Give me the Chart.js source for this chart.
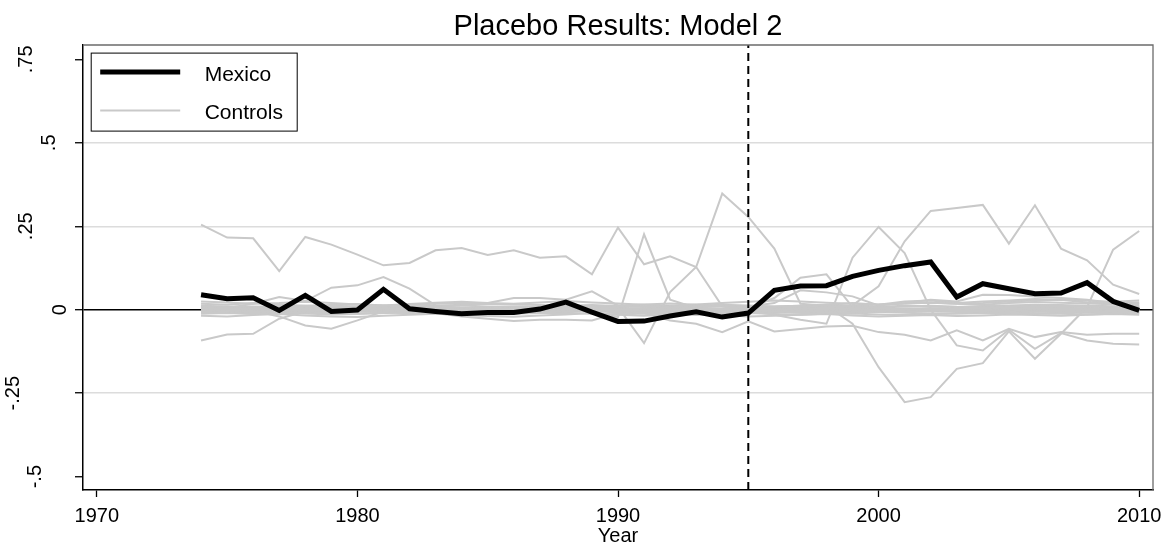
<!DOCTYPE html>
<html>
<head>
<meta charset="utf-8">
<script src="https://cdn.jsdelivr.net/npm/chart.js@4/dist/chart.umd.min.js"></script>
<style>
  html, body { margin: 0; padding: 0; background: #ffffff; }
  #wrap { width: 1174px; height: 551px; }
</style>
</head>
<body>
<div id="wrap"><canvas id="c" width="1174" height="551"></canvas></div>
<script>
// ---- data -------------------------------------------------------------
const years = [1974, 1975, 1976, 1977, 1978, 1979, 1980, 1981, 1982, 1983,
               1984, 1985, 1986, 1987, 1988, 1989, 1990, 1991, 1992, 1993,
               1994, 1995, 1996, 1997, 1998, 1999, 2000, 2001, 2002, 2003,
               2004, 2005, 2006, 2007, 2008, 2009, 2010];

const mexico = [0.045, 0.033, 0.036, -0.002, 0.043, -0.005, -0.001, 0.061, 0.003, -0.005,
                -0.012, -0.008, -0.008, 0.002, 0.023, -0.007, -0.035, -0.034, -0.019, -0.006,
                -0.022, -0.010, 0.058, 0.071, 0.072, 0.100, 0.118, 0.132, 0.143, 0.038,
                0.078, 0.063, 0.048, 0.050, 0.081, 0.025, -0.002];

const ctrlA = [0.255, 0.216, 0.214, 0.116, 0.218, 0.195, 0.165, 0.133, 0.140, 0.178, 0.185, 0.164, 0.178, 0.156, 0.160, 0.106, 0.246, 0.136, 0.160, 0.128, 0.010, -0.005, 0.000, 0.004, 0.006, 0.003, -0.002, 0.001, 0.004, 0.002, 0.005, 0.008, 0.010, 0.012, 0.010, 0.009, 0.008];
const ctrlB = [0.004, 0.006, 0.002, 0.000, -0.003, 0.002, 0.005, 0.003, 0.001, -0.002, 0.000, 0.003, 0.004, 0.002, 0.000, 0.003, 0.008, -0.100, 0.053, 0.128, 0.348, 0.278, 0.183, 0.018, 0.012, -0.042, -0.172, -0.277, -0.262, -0.177, -0.160, -0.065, -0.147, -0.072, 0.008, 0.180, 0.236];
const ctrlC = [0.002, 0.000, 0.003, 0.005, 0.002, -0.001, 0.000, 0.002, 0.004, 0.003, 0.001, -0.001, 0.000, 0.002, 0.004, 0.002, 0.000, -0.002, 0.001, 0.003, 0.002, -0.004, -0.015, -0.030, -0.042, 0.156, 0.248, 0.170, 0.000, -0.107, -0.122, -0.060, -0.117, -0.070, -0.092, -0.102, -0.104];
const ctrlD = [-0.004, -0.002, 0.000, 0.002, -0.001, -0.003, -0.002, 0.000, 0.001, -0.001, -0.003, -0.002, 0.000, 0.002, 0.001, -0.002, -0.004, -0.001, 0.002, 0.001, -0.001, 0.000, 0.004, 0.000, -0.010, 0.013, 0.070, 0.205, 0.296, 0.305, 0.314, 0.198, 0.313, 0.183, 0.148, 0.075, 0.047];
const ctrlF = [-0.002, -0.004, -0.006, -0.003, 0.000, -0.002, -0.005, -0.003, -0.001, -0.003, -0.005, -0.004, -0.002, -0.003, -0.004, -0.002, 0.000, -0.010, -0.032, -0.042, -0.067, -0.035, -0.065, -0.058, -0.050, -0.048, -0.067, -0.075, -0.092, -0.062, -0.092, -0.057, -0.082, -0.067, -0.075, -0.072, -0.072];
const ctrlJ = [0.003, 0.001, 0.000, 0.002, 0.004, 0.003, 0.001, 0.000, 0.002, 0.004, 0.005, 0.003, 0.002, 0.004, 0.006, 0.003, 0.002, 0.004, 0.006, 0.003, 0.001, 0.005, 0.035, 0.096, 0.106, 0.008, -0.005, 0.000, 0.004, 0.002, 0.006, 0.004, 0.003, 0.005, 0.004, 0.002, 0.003];
const ctrlK = [0.000, 0.005, 0.018, 0.038, 0.026, 0.066, 0.073, 0.098, 0.063, 0.013, 0.005, 0.000, 0.002, 0.004, 0.003, 0.001, -0.002, 0.000, 0.003, 0.002, 0.000, 0.002, 0.004, 0.003, 0.001, 0.000, 0.002, 0.004, 0.003, 0.005, 0.004, 0.002, 0.001, 0.003, 0.004, 0.002, 0.003];
const ctrlL = [-0.092, -0.074, -0.072, -0.027, -0.005, -0.008, -0.004, -0.002, -0.004, -0.006, -0.003, -0.001, -0.003, -0.005, -0.004, -0.002, -0.004, -0.006, -0.003, -0.001, -0.002, -0.004, -0.006, -0.003, -0.002, -0.004, -0.003, -0.005, -0.004, -0.002, -0.003, -0.004, -0.002, -0.003, -0.005, -0.004, -0.003];
const ctrlM = [0.002, 0.001, -0.003, -0.020, -0.047, -0.057, -0.032, -0.005, -0.010, -0.006, -0.004, -0.002, -0.005, -0.007, -0.004, -0.003, -0.005, -0.002, 0.000, -0.003, -0.005, -0.004, -0.002, 0.000, -0.002, -0.004, -0.006, -0.003, -0.002, -0.004, -0.005, -0.003, -0.001, -0.002, -0.004, -0.003, -0.002];
const ctrlN = [0.010, 0.008, 0.006, 0.009, 0.012, 0.010, 0.008, 0.012, 0.015, 0.018, 0.020, 0.020, 0.035, 0.035, 0.030, 0.055, 0.012, 0.010, 0.008, 0.006, 0.004, 0.008, 0.010, 0.012, 0.010, 0.008, 0.006, 0.010, 0.012, 0.009, 0.008, 0.010, 0.012, 0.011, 0.009, 0.010, 0.012];
const ctrlO = [-0.008, -0.006, -0.004, -0.006, -0.008, -0.010, -0.012, -0.010, -0.008, -0.010, -0.020, -0.027, -0.034, -0.030, -0.030, -0.032, -0.010, -0.006, -0.004, -0.008, -0.010, -0.008, -0.006, -0.009, -0.011, -0.008, -0.006, -0.009, -0.011, -0.010, -0.008, -0.009, -0.011, -0.010, -0.008, -0.009, -0.010];
const ctrlR = [0.006, 0.008, 0.010, 0.007, 0.005, 0.008, 0.010, 0.012, 0.009, 0.007, 0.006, 0.008, 0.010, 0.009, 0.007, 0.010, 0.012, 0.010, 0.008, 0.010, 0.012, 0.010, 0.020, 0.058, 0.052, 0.040, 0.013, 0.020, 0.030, 0.025, 0.045, 0.044, 0.040, 0.035, 0.030, 0.020, 0.012];
const ctrlS = [0.000, -0.002, 0.001, 0.003, 0.002, 0.000, -0.001, 0.002, 0.004, 0.002, 0.000, 0.001, 0.003, 0.002, 0.000, -0.002, 0.001, 0.003, 0.002, 0.000, 0.001, 0.003, 0.005, 0.010, 0.015, 0.020, 0.015, 0.025, 0.028, 0.020, 0.025, 0.028, 0.032, 0.030, 0.022, 0.020, 0.018];
const ctrlT = [-0.001, 0.001, 0.003, 0.001, -0.002, 0.000, 0.002, 0.004, 0.001, -0.001, 0.000, 0.002, 0.001, -0.002, 0.000, -0.005, -0.022, 0.226, 0.030, 0.005, 0.002, 0.000, -0.002, 0.001, 0.003, 0.001, -0.001, 0.000, 0.002, 0.001, -0.002, 0.000, 0.001, 0.003, 0.002, 0.000, -0.001];
const ctrlZ1 = [0.005, 0.004, 0.006, 0.003, 0.002, 0.004, 0.006, 0.008, 0.005, 0.003, 0.002, 0.004, 0.005, 0.003, 0.002, 0.004, 0.006, 0.003, 0.001, 0.002, 0.004, 0.003, 0.005, 0.006, 0.004, 0.002, 0.001, 0.003, 0.004, 0.002, 0.003, 0.005, 0.006, 0.004, 0.003, 0.005, 0.004];
const ctrlZ2 = [-0.006, -0.004, -0.005, -0.008, -0.006, -0.003, -0.005, -0.007, -0.004, -0.006, -0.005, -0.003, -0.004, -0.006, -0.005, -0.004, -0.003, -0.006, -0.008, -0.005, -0.004, -0.006, -0.008, -0.005, -0.007, -0.009, -0.006, -0.004, -0.005, -0.003, -0.006, -0.004, -0.005, -0.007, -0.006, -0.004, -0.003];
const ctrlZ3 = [0.012, 0.010, 0.008, 0.011, 0.009, 0.012, 0.010, 0.007, 0.009, 0.011, 0.013, 0.010, 0.008, 0.009, 0.012, 0.014, 0.011, 0.009, 0.010, 0.012, 0.015, 0.013, 0.010, 0.012, 0.014, 0.011, 0.009, 0.012, 0.010, 0.008, 0.011, 0.013, 0.015, 0.014, 0.012, 0.016, 0.018];
const ctrlZ4 = [-0.012, -0.010, -0.013, -0.009, -0.011, -0.014, -0.012, -0.010, -0.008, -0.011, -0.013, -0.015, -0.012, -0.010, -0.009, -0.012, -0.014, -0.011, -0.013, -0.016, -0.012, -0.010, -0.013, -0.015, -0.012, -0.011, -0.014, -0.016, -0.013, -0.012, -0.010, -0.013, -0.011, -0.012, -0.014, -0.012, -0.010];
const ctrlZ5 = [0.000, 0.002, -0.001, 0.001, 0.003, 0.000, -0.002, 0.001, 0.002, 0.000, -0.001, 0.001, 0.002, 0.003, 0.001, -0.001, 0.000, 0.002, 0.001, -0.002, 0.000, 0.001, 0.003, 0.002, 0.000, -0.001, 0.002, 0.001, 0.000, 0.002, 0.003, 0.001, 0.000, 0.002, 0.001, 0.000, 0.001];
const ctrlZ6 = [0.018, 0.015, 0.020, 0.016, 0.012, 0.014, 0.017, 0.013, 0.010, 0.012, 0.015, 0.018, 0.016, 0.014, 0.011, 0.010, 0.013, 0.016, 0.019, 0.015, 0.012, 0.010, 0.008, 0.011, 0.014, 0.012, 0.016, 0.019, 0.021, 0.018, 0.015, 0.020, 0.023, 0.021, 0.019, 0.020, 0.022];
const ctrlZ7 = [-0.018, -0.020, -0.016, -0.013, -0.017, -0.020, -0.022, -0.018, -0.015, -0.012, -0.016, -0.019, -0.021, -0.017, -0.014, -0.010, -0.015, -0.018, -0.014, -0.012, -0.016, -0.020, -0.018, -0.015, -0.013, -0.017, -0.020, -0.018, -0.016, -0.019, -0.017, -0.014, -0.016, -0.018, -0.015, -0.013, -0.015];
const ctrlZ8 = [0.008, 0.006, 0.003, -0.002, -0.004, 0.001, 0.005, 0.009, 0.006, 0.002, -0.001, -0.003, 0.000, 0.004, 0.007, 0.010, 0.006, 0.002, -0.003, -0.005, -0.002, 0.003, 0.007, 0.010, 0.008, 0.004, 0.000, -0.003, -0.001, 0.004, 0.008, 0.011, 0.009, 0.006, 0.004, 0.007, 0.010];
const ctrlZ9 = [-0.003, -0.006, -0.009, -0.005, 0.000, 0.004, 0.002, -0.002, -0.006, -0.009, -0.007, -0.003, 0.001, 0.003, 0.000, -0.004, -0.008, -0.010, -0.006, -0.002, 0.001, -0.002, -0.006, -0.009, -0.012, -0.008, -0.004, 0.000, 0.002, -0.001, -0.005, -0.008, -0.006, -0.003, -0.001, -0.004, -0.006];
const ctrlZ10 = [0.025, 0.022, 0.018, 0.020, 0.024, 0.020, 0.016, 0.013, 0.017, 0.021, 0.024, 0.020, 0.018, 0.022, 0.026, 0.022, 0.019, 0.015, 0.012, 0.016, 0.020, 0.024, 0.028, 0.025, 0.021, 0.018, 0.015, 0.019, 0.022, 0.018, 0.020, 0.025, 0.028, 0.030, 0.027, 0.024, 0.028];

const controls = [ctrlA, ctrlB, ctrlC, ctrlD, ctrlF, ctrlJ, ctrlK, ctrlL, ctrlM, ctrlN, ctrlO,
                  ctrlR, ctrlS, ctrlT, ctrlZ1, ctrlZ2, ctrlZ3, ctrlZ4, ctrlZ5, ctrlZ6, ctrlZ7,
                  ctrlZ8, ctrlZ9, ctrlZ10];

const treatmentYear = 1995;
const xTicks = [1970, 1980, 1990, 2000, 2010];
const yTicks = [-0.5, -0.25, 0, 0.25, 0.5, 0.75];
const yTickLabels = ['-.5', '-.25', '0', '.25', '.5', '.75'];
const yGridValues = [-0.25, 0.25, 0.5];
const xRange = [1969.47, 2010.53];
const yRange = [-0.54, 0.793];
const titleText = 'Placebo Results: Model 2';
const xTitle = 'Year';
const legendLabels = ['Mexico', 'Controls'];

// ---- styling ----------------------------------------------------------
const FONT = '"Liberation Sans", Arial, Helvetica, sans-serif';
const CTRL_COLOR = '#c9c9c9';

const toPoints = vals => vals.map((v, i) => ({ x: years[i], y: v }));

const datasets = [];
datasets.push({
  label: legendLabels[0], data: toPoints(mexico),
  borderColor: '#000000', borderWidth: 5, borderJoinStyle: 'miter',
  pointRadius: 0, tension: 0, fill: false
});
datasets.push({
  label: 'treatment', data: [{ x: treatmentYear, y: yRange[0] }, { x: treatmentYear, y: yRange[1] }],
  borderColor: '#000000', borderWidth: 2, borderDash: [8, 5],
  pointRadius: 0, fill: false
});
controls.forEach(vals => datasets.push({
  label: legendLabels[1], data: toPoints(vals),
  borderColor: CTRL_COLOR, borderWidth: 2, pointRadius: 0, tension: 0, fill: false
}));

// frame, title, rotated y labels and the boxed legend
const decorations = {
  id: 'decorations',
  afterDraw(chart) {
    const { ctx, chartArea: a } = chart;
    const yScale = chart.scales.y;
    ctx.save();

    // grey outline on top and right of the plot region
    ctx.strokeStyle = '#6b6b6b';
    ctx.lineWidth = 1.3;
    ctx.beginPath();
    ctx.moveTo(a.left, a.top);
    ctx.lineTo(a.right, a.top);
    ctx.lineTo(a.right, a.bottom);
    ctx.stroke();

    // title
    ctx.fillStyle = '#000000';
    ctx.font = '29px ' + FONT;
    ctx.textAlign = 'center';
    ctx.textBaseline = 'alphabetic';
    ctx.fillText(titleText, (a.left + a.right) / 2, 35);

    // vertical y tick labels
    ctx.font = '20px ' + FONT;
    yTicks.forEach((v, i) => {
      const label = yTickLabels[i];
      const w = ctx.measureText(label).width;
      const py = yScale.getPixelForValue(v);
      const bx = 88 - 2 * w;
      ctx.save();
      ctx.translate(bx, py);
      ctx.rotate(-Math.PI / 2);
      ctx.textAlign = 'center';
      ctx.textBaseline = 'alphabetic';
      ctx.fillText(label, 0, 0);
      ctx.restore();
    });

    // legend
    const lx = a.left + 7.7, ly = a.top + 7.6, lw = 206, lh = 78;
    ctx.fillStyle = '#ffffff';
    ctx.fillRect(lx, ly, lw, lh);
    ctx.strokeStyle = '#000000';
    ctx.lineWidth = 1;
    ctx.strokeRect(lx + 0.5, ly + 0.5, lw, lh);

    ctx.lineCap = 'butt';
    ctx.strokeStyle = '#000000';
    ctx.lineWidth = 5;
    ctx.beginPath(); ctx.moveTo(lx + 9.5, ly + 19.5); ctx.lineTo(lx + 89.5, ly + 19.5); ctx.stroke();
    ctx.strokeStyle = CTRL_COLOR;
    ctx.lineWidth = 2;
    ctx.beginPath(); ctx.moveTo(lx + 9.5, ly + 58); ctx.lineTo(lx + 89.5, ly + 58); ctx.stroke();

    ctx.fillStyle = '#000000';
    ctx.font = '21px ' + FONT;
    ctx.textAlign = 'left';
    ctx.textBaseline = 'alphabetic';
    ctx.fillText(legendLabels[0], lx + 114, ly + 28.5);
    ctx.fillText(legendLabels[1], lx + 114, ly + 66.5);

    ctx.restore();
  }
};

new Chart(document.getElementById('c'), {
  type: 'line',
  data: { datasets },
  plugins: [decorations],
  options: {
    responsive: false,
    animation: false,
    events: [],
    layout: { padding: { top: 45, right: 21, left: 0, bottom: 0 } },
    plugins: { legend: { display: false }, title: { display: false }, tooltip: { enabled: false } },
    scales: {
      x: {
        type: 'linear', min: xRange[0], max: xRange[1],
        afterBuildTicks: s => { s.ticks = xTicks.map(v => ({ value: v })); },
        afterFit: s => { s.height = 61; },
        ticks: {
          color: '#000000', font: { family: FONT, size: 20 }, padding: 7,
          autoSkip: false, maxRotation: 0, minRotation: 0,
          callback: v => String(v)
        },
        grid: { drawOnChartArea: false, drawTicks: true, tickLength: 7, tickColor: '#000000', tickWidth: 1.3 },
        border: { color: '#000000', width: 1.5 },
        title: { display: true, text: xTitle, color: '#000000', font: { family: FONT, size: 20 }, padding: { top: 0, bottom: 3 } }
      },
      y: {
        type: 'linear', min: yRange[0], max: yRange[1],
        afterBuildTicks: s => { s.ticks = yTicks.map(v => ({ value: v })); },
        afterFit: s => { s.width = 83; },
        ticks: { display: false },
        grid: {
          drawOnChartArea: true, drawTicks: true, tickLength: 8,
          tickColor: '#000000', tickWidth: 1.3,
          color: c => {
            const v = c.tick ? c.tick.value : null;
            if (v === 0) return '#000000';
            return yGridValues.includes(v) ? '#dcdcdc' : 'rgba(0,0,0,0)';
          },
          lineWidth: c => (c.tick && c.tick.value === 0 ? 1.4 : 1.5)
        },
        border: { color: '#000000', width: 1.5 }
      }
    }
  }
});
</script>
</body>
</html>
